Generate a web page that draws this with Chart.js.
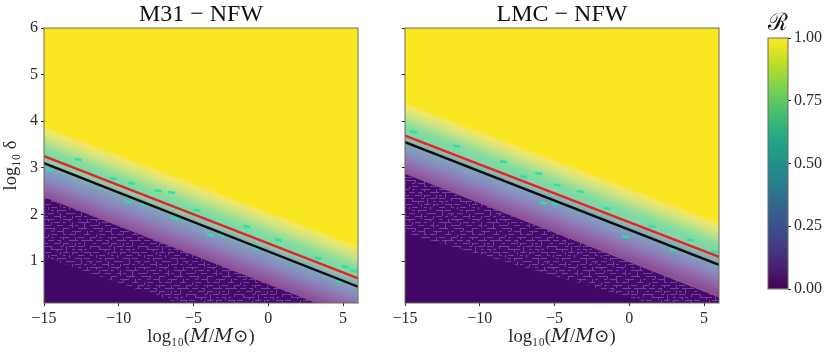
<!DOCTYPE html>
<html>
  <head>
    <script src="https://cdn.jsdelivr.net/npm/chart.js@4"></script>
    <style>
      body { margin: 0; background: #fff; }
      canvas { position: absolute; top: 0; filter: blur(0.5px); }
    </style>
  </head>
  <body>
    <canvas id="m31Chart" width="370" height="356" style="left:0"></canvas>
    <canvas id="lmcChart" width="370" height="356" style="left:361px"></canvas>
    <canvas id="barChart" width="70" height="356" style="left:760px"></canvas>
    <script>
      const xTicks = [-15, -10, -5, 0, 5];
      const yTicks = [1, 2, 3, 4, 5, 6];
      const barTicks = [0, 0.25, 0.5, 0.75, 1];
      const lineX = [-15, 6];

      // soft band: its top edge, its bottom edge (where the maze noise starts)
      const m31BandTop = [3.88, 1.32];
      const m31MazeEdge = [2.37, -0.25];
      const m31DarkEdge = [1.08, -1.22];
      const lmcBandTop = [4.39, 1.82];
      const lmcMazeEdge = [2.87, 0.22];
      const lmcDarkEdge = [1.6, -0.33];

      const m31Red = [3.25, 0.63];
      const m31Black = [3.1, 0.45];
      const lmcRed = [3.69, 1.09];
      const lmcBlack = [3.55, 0.92];

      const m31SpeckX = [-14.62, -12.72, -10.37, -9.14, -9.37, -8.25, -7.36, -6.46, -6.24, -4.79, -3.89, -3.11, -1.43, -0.76, 0.68, 3.36, 5.15, 5.71, 4.82];
      const m31SpeckY = [2.95, 3.18, 2.77, 2.67, 2.27, 2.22, 2.51, 2.47, 1.92, 2.09, 1.56, 1.56, 1.74, 1.27, 1.45, 1.06, 0.88, 0.79, 0.56];
      const lmcSpeckX = [-14.44, -11.54, -8.41, -9.97, -7.07, -6.06, -4.83, -3.27, -5.73, -4.95, -1.48, 1.53, -0.25, 2.98, 4.1, 5.67];
      const lmcSpeckY = [3.77, 3.47, 3.13, 2.95, 2.81, 2.88, 2.63, 2.49, 2.24, 2.24, 2.13, 1.74, 1.52, 1.25, 1.45, 1.2];

      const barValues = [1];

      // colours across the soft band, 0 is its top edge and 1 the bottom one
      const bandStops = [0, 0.06, 0.14, 0.22, 0.3, 0.38, 0.42, 0.47, 0.52, 0.58, 0.68, 0.78, 0.88, 1];
      const bandColors = ['#f8e74c', '#ede76c', '#d3e47f', '#b0e18d', '#8fdd9b', '#78dca6', '#86d4a8', '#9cc6a8',
        '#8ab4ae', '#80a4bb', '#8592bf', '#8c7db7', '#9267a9', '#8c4f97'];
      const barStops = [0, 0.1, 0.2, 0.3, 0.4, 0.5, 0.6, 0.7, 0.8, 0.9, 1];
      const barColors = ['#440154', '#482475', '#414487', '#355f8d', '#2a788e', '#21918c', '#22a884', '#44bf70', '#7ad151', '#bddf26', '#fde725'];

      const serif = '"Liberation Serif", "DejaVu Serif", serif';
      const ink = '#2a2a2a';

      // tile for the maze noise in the dark corner: - top edge, | left edge, L both
      const mazeRows = [
        '-- -|  --- -L-- ',
        '  -- L-  |- |  -',
        '-|  - |-- --  L-',
        ' --L- | - -|-   ',
        '-   |-- L-  --|-',
        '|--  - |  --  - ',
        ' - L--   --|--  ',
        '--  | ---  | -L ',
        '  --|-  |-- -  -',
        'L-   --L  -  |--',
        ' |-- -  | --L-  ',
        '-  --  -|-  | --',
        '--|  L-   ---  -',
        ' - --|  -L-  |- ',
        '|--  - --   --  ',
        ' -  -L-  |--  L-'
      ];

      function mazePattern() {
        const cell = 3;
        const tile = document.createElement('canvas');
        tile.width = mazeRows[0].length * cell;
        tile.height = mazeRows.length * cell;
        const ctx = tile.getContext('2d');
        ctx.fillStyle = '#450a6b';
        ctx.fillRect(0, 0, tile.width, tile.height);
        ctx.fillStyle = '#74409a';
        mazeRows.forEach(function(row, j) {
          row.split('').forEach(function(c, i) {
            if (c === '-' || c === 'L') ctx.fillRect(i * cell, j * cell, cell, 1);
            if (c === '|' || c === 'L') ctx.fillRect(i * cell, j * cell, 1, cell);
          });
        });
        return ctx.createPattern(tile, 'repeat');
      }

      function edgeData(ends) {
        return lineX.map(function(x, i) { return { x: x, y: ends[i] }; });
      }

      function bandDataset(ends, color, order) {
        return {
          data: edgeData(ends),
          backgroundColor: color,
          borderWidth: 0,
          pointRadius: 0,
          fill: 'start',
          order: order
        };
      }

      function lineDataset(ends, color, order) {
        return {
          data: edgeData(ends),
          borderColor: color,
          borderWidth: 2.4,
          pointRadius: 0,
          fill: false,
          order: order
        };
      }

      // gradient running square to the band, from its top edge to the maze edge
      function bandGradient(top, bottom) {
        return function(context) {
          const chart = context.chart;
          if (!chart.chartArea) return bandColors[0];
          const xs = chart.scales.x;
          const ys = chart.scales.y;
          const x0 = xs.getPixelForValue(lineX[0]);
          const y0 = ys.getPixelForValue(top[0]);
          const dx = xs.getPixelForValue(lineX[1]) - x0;
          const dy = ys.getPixelForValue(top[1]) - y0;
          const gap = ys.getPixelForValue(bottom[0]) - y0;
          const k = gap * dx / (dx * dx + dy * dy);
          const g = chart.ctx.createLinearGradient(x0, y0, x0 - dy * k, y0 + dx * k);
          bandStops.forEach(function(s, i) { g.addColorStop(s, bandColors[i]); });
          return g;
        };
      }

      function barGradient(context) {
        const chart = context.chart;
        if (!chart.chartArea) return barColors[0];
        const a = chart.chartArea;
        const g = chart.ctx.createLinearGradient(0, a.bottom, 0, a.top);
        barStops.forEach(function(s, i) { g.addColorStop(s, barColors[i]); });
        return g;
      }

      const framePlugin = {
        id: 'frame',
        afterDraw: function(chart) {
          const a = chart.chartArea;
          chart.ctx.save();
          chart.ctx.strokeStyle = '#6b6b5c';
          chart.ctx.lineWidth = 1;
          chart.ctx.strokeRect(a.left, a.top, a.right - a.left, a.bottom - a.top);
          chart.ctx.restore();
        }
      };

      function panel(id, title, bandTop, mazeEdge, darkEdge, red, black, speckX, speckY, showLabels) {
        const datasets = [];
        // yellow sky first, every later fill paints over what lies under its edge
        datasets.push(bandDataset([7, 7], '#f9e721', 100));
        datasets.push(bandDataset(bandTop, bandGradient(bandTop, mazeEdge), 90));
        datasets.push(bandDataset(mazeEdge, mazePattern(), 20));
        datasets.push(bandDataset(darkEdge, '#420766', 19));
        datasets.push({
          data: speckX.map(function(x, i) { return { x: x, y: speckY[i] }; }),
          showLine: false,
          pointStyle: 'line',
          pointRotation: 8,
          pointRadius: 3.5,
          pointBorderWidth: 2.5,
          pointBorderColor: '#2fe0a4',
          order: 10
        });
        datasets.push(lineDataset(red, '#dc2a2c', 2));
        datasets.push(lineDataset(black, '#0d0d0d', 1));

        new Chart(document.getElementById(id), {
          type: 'line',
          data: { datasets: datasets },
          plugins: [framePlugin],
          options: {
            responsive: false,
            animation: false,
            layout: { padding: { left: 0, right: 12, top: 0, bottom: 8 } },
            plugins: {
              legend: { display: false },
              tooltip: { enabled: false },
              title: {
                display: true,
                text: title,
                fullSize: false,
                color: '#111',
                font: { family: serif, size: 24, weight: 'normal', lineHeight: 1 },
                padding: { top: 3, bottom: 1 }
              }
            },
            scales: {
              x: {
                type: 'linear',
                min: -15,
                max: 6,
                afterBuildTicks: function(scale) { scale.ticks = xTicks.map(function(v) { return { value: v }; }); },
                afterFit: function(scale) { scale.height = 45; },
                grid: { drawOnChartArea: false, tickLength: 3, color: ink },
                border: { display: false },
                ticks: {
                  color: ink,
                  maxRotation: 0,
                  padding: 3,
                  font: { family: serif, size: 16 },
                  callback: function(v) { return String(v).replace('-', '\u2212'); }
                },
                title: {
                  display: true,
                  text: 'log\u2081\u2080(\uD835\uDC40/\uD835\uDC40\u2299)',
                  color: ink,
                  font: { family: serif, size: 18.5 },
                  padding: 0
                }
              },
              y: {
                type: 'linear',
                min: 0.1,
                max: 6,
                afterBuildTicks: function(scale) { scale.ticks = yTicks.map(function(v) { return { value: v }; }); },
                afterFit: function(scale) { scale.width = 44; },
                grid: { drawOnChartArea: false, tickLength: 3, color: ink },
                border: { display: false },
                ticks: {
                  color: ink,
                  padding: 3,
                  font: { family: serif, size: 16 },
                  callback: function(v) { return showLabels ? String(v) : ''; }
                },
                title: {
                  display: showLabels,
                  text: 'log\u2081\u2080 \u03B4',
                  color: ink,
                  font: { family: serif, size: 18.5 },
                  padding: 0
                }
              }
            }
          }
        });
      }

      window.onload = function() {
        panel('m31Chart', 'M31 \u2212 NFW', m31BandTop, m31MazeEdge, m31DarkEdge, m31Red, m31Black, m31SpeckX, m31SpeckY, true);
        panel('lmcChart', 'LMC \u2212 NFW', lmcBandTop, lmcMazeEdge, lmcDarkEdge, lmcRed, lmcBlack, lmcSpeckX, lmcSpeckY, false);

        new Chart(document.getElementById('barChart'), {
          type: 'bar',
          data: {
            labels: ['R'],
            datasets: [{ data: barValues, backgroundColor: barGradient, barPercentage: 1, categoryPercentage: 1, borderWidth: 0 }]
          },
          plugins: [framePlugin],
          options: {
            responsive: false,
            animation: false,
            layout: { padding: { left: 8, right: 0, top: 0, bottom: 67 } },
            plugins: {
              legend: { display: false },
              tooltip: { enabled: false },
              title: {
                display: true,
                text: '\u211B',
                fullSize: false,
                color: '#111',
                font: { family: '"DejaVu Serif", serif', size: 24, weight: 'normal', lineHeight: 1 },
                padding: { top: 12, bottom: 2 }
              }
            },
            scales: {
              x: { display: false },
              y: {
                position: 'right',
                min: 0,
                max: 1,
                afterBuildTicks: function(scale) { scale.ticks = barTicks.map(function(v) { return { value: v }; }); },
                afterFit: function(scale) { scale.width = 42; },
                grid: { drawOnChartArea: false, tickLength: 3, color: ink },
                border: { display: false },
                ticks: {
                  color: ink,
                  padding: 3,
                  font: { family: serif, size: 16 },
                  callback: function(v) { return v.toFixed(2); }
                }
              }
            }
          }
        });
      };
    </script>
  </body>
</html>
